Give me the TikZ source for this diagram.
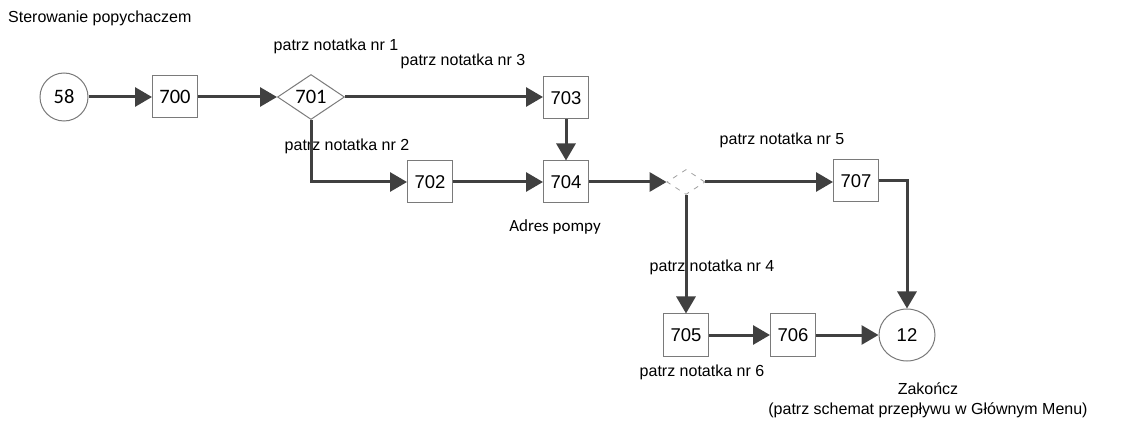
\documentclass[tikz,border=0pt]{standalone}
\usepackage{fontspec}
\setmainfont{Liberation Sans}
\newfontfamily\calib{Carlito}
\usetikzlibrary{shapes.geometric,arrows.meta}
\definecolor{linegray}{HTML}{404040}
\definecolor{boxgray}{HTML}{7A7A7A}
\definecolor{dashgray}{HTML}{A0A0A0}
\begin{document}
\begin{tikzpicture}[x=1pt,y=-1pt,
 lbl/.style={font=\fontsize{16}{18}\selectfont, inner sep=0},
 box/.style={draw=boxgray, line width=1pt, minimum width=45, minimum height=42, inner sep=0, font=\fontsize{18.5}{20}\selectfont},
 calnum/.style={font=\calib\fontsize{20.5}{22}\selectfont},
 flow/.style={draw=linegray, line width=3pt, -{Triangle[length=17pt,width=19pt]}},
]
\path[use as bounding box] (0,0) rectangle (1136,422);

\node[lbl, anchor=west] (title) at (8,18) {Sterowanie popychaczem};
\node[circle, draw=boxgray, line width=1pt, minimum size=48, inner sep=0, calnum] (c58) at (64,97) {58};
\node[box, calnum] (b700) at (175,97) {700};
\node[diamond, draw=boxgray, line width=1pt, minimum width=67, minimum height=45, inner sep=0, calnum] (d701) at (311,97) {701};
\node[lbl] (n1) at (336,46) {patrz notatka nr 1};
\node[lbl] (n3) at (463,61) {patrz notatka nr 3};
\node[box] (b703) at (566,98) {703};
\node[lbl] (n2) at (347,146) {patrz notatka nr 2};
\node[box] (b702) at (430,182) {702};
\node[box] (b704) at (566,182) {704};
\node[lbl, font=\calib\fontsize{17}{18}\selectfont] (adres) at (555,227) {Adres pompy};
\node[diamond, draw=dashgray, line width=0.8pt, dash pattern=on 5pt off 6pt, minimum width=38, minimum height=25, inner sep=0] (d2) at (686,182) {};
\node[lbl] (n5) at (782,140) {patrz notatka nr 5};
\node[box] (b707) at (856,181) {707};
\node[ellipse, draw=boxgray, line width=1pt, minimum width=56, minimum height=52, inner sep=0, font=\fontsize{18.5}{20}\selectfont] (c12) at (907,335) {12};
\node[lbl] (n4) at (712,267) {patrz notatka nr 4};
\node[box] (b705) at (686,335) {705};
\node[box] (b706) at (793,335) {706};
\node[lbl] (n6) at (702,372) {patrz notatka nr 6};
\node[lbl] (zak) at (928,389) {Zakończ};
\node[lbl] (pat) at (928,410) {(patrz schemat przepływu w Głównym Menu)};

\draw[flow] (c58) -- (b700);
\draw[flow] (b700) -- (d701.west);
\draw[flow] (d701.east) -- (d701.east -| b703.west);
\draw[flow] (d701.south) |- (b702.west);
\draw[flow] (b702) -- (b704);
\draw[flow] (b703) -- (b704);
\draw[flow] (b704) -- (d2.west);
\draw[flow] (d2.east) -- (d2.east -| b707.west);
\draw[flow] (d2.south) -- (d2.south |- b705.north);
\draw[flow] (b707.east) -| (c12.north);
\draw[flow] (b705) -- (b706);
\draw[flow] (b706) -- (c12);
\end{tikzpicture}
\end{document}
